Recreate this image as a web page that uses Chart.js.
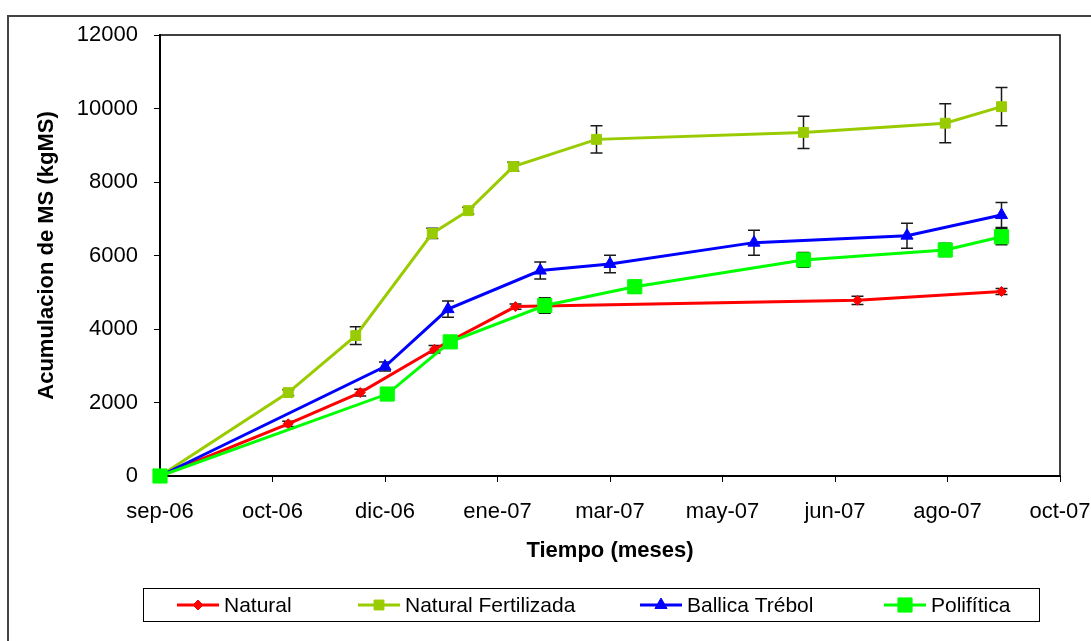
<!DOCTYPE html>
<html>
<head>
<meta charset="utf-8">
<script src="https://cdn.jsdelivr.net/npm/chart.js@4/dist/chart.umd.min.js"></script>
<style>
  html, body { margin: 0; padding: 0; background: #fff; }
  #wrap { width: 1091px; height: 641px; }
</style>
</head>
<body>
<div id="wrap"><canvas id="ms-chart" width="1091" height="641"></canvas></div>
<script>
// x axis: days since 1 Sep 2006, ticks every 50 days
const monthLabels = ['sep-06', 'oct-06', 'dic-06', 'ene-07', 'mar-07', 'may-07', 'jun-07', 'ago-07', 'oct-07']

const naturalDays = [0, 57, 89, 122, 158, 310, 374]
const naturalVals = [0, 1420, 2270, 3450, 4610, 4780, 5020]
const naturalErr  = [0, 70, 90, 100, 70, 110, 80]

const fertDays = [0, 57, 87, 121, 137, 157, 194, 286, 349, 374]
const fertVals = [0, 2270, 3820, 6600, 7220, 8420, 9160, 9350, 9600, 10050]
const fertErr  = [0, 80, 240, 140, 90, 120, 370, 440, 530, 520]

const ballicaDays = [0, 100, 128, 169, 200, 264, 332, 374]
const ballicaVals = [0, 2980, 4540, 5590, 5770, 6350, 6540, 7100]
const ballicaErr  = [0, 120, 220, 230, 240, 340, 340, 340]

const poliDays = [0, 101, 129, 171, 211, 286, 349, 374]
const poliVals = [0, 2230, 3650, 4640, 5150, 5880, 6150, 6510]
const poliErr  = [0, 100, 100, 210, 170, 200, 180, 220]

const FONT = '"Liberation Sans", Arial, sans-serif'

const SERIES = [
  { label: 'Natural',             days: naturalDays, vals: naturalVals, err: naturalErr, color: '#FF0000', style: 'rectRot',  radius: 5, order: 3 },
  { label: 'Natural Fertilizada', days: fertDays,    vals: fertVals,    err: fertErr,    color: '#99CC00', style: 'rect',     radius: 7, order: 2 },
  { label: 'Ballica Trébol',      days: ballicaDays, vals: ballicaVals, err: ballicaErr, color: '#0000FF', style: 'triangle', radius: 7, order: 1 },
  { label: 'Polifítica',          days: poliDays,    vals: poliVals,    err: poliErr,    color: '#00FF00', style: 'rect',     radius: 10, order: 0 },
]

// legend sample start x for each entry (line sample is 42px wide)
const LEGEND_X = [177, 358, 640, 884]

const datasets = SERIES.map(s => ({
  label: s.label,
  data: s.days.map((d, i) => ({ x: d, y: s.vals[i], err: s.err[i] })),
  borderColor: s.color,
  backgroundColor: s.color,
  borderWidth: 3,
  tension: 0,
  pointStyle: s.style,
  pointRadius: s.radius,
  pointBackgroundColor: s.color,
  pointBorderColor: s.color,
  pointBorderWidth: 1,
  order: s.order,
  clip: false,
}))

// vertical error bars with caps, under the lines
const errorBars = {
  id: 'errorBars',
  beforeDatasetsDraw(chart) {
    const { ctx, scales: { x, y } } = chart
    ctx.save()
    ctx.strokeStyle = '#1a1a1a'
    ctx.lineWidth = 1.5
    chart.data.datasets.forEach(ds => {
      ds.data.forEach(p => {
        if (!p.err) return
        const px = x.getPixelForValue(p.x)
        const top = y.getPixelForValue(p.y + p.err)
        const bot = y.getPixelForValue(p.y - p.err)
        ctx.beginPath()
        ctx.moveTo(px, top); ctx.lineTo(px, bot)
        ctx.moveTo(px - 6, top); ctx.lineTo(px + 6, top)
        ctx.moveTo(px - 6, bot); ctx.lineTo(px + 6, bot)
        ctx.stroke()
      })
    })
    ctx.restore()
  },
}

// outer frame, plot box and boxed legend
const frame = {
  id: 'frame',
  beforeDraw(chart) {
    const { ctx, chartArea: a } = chart
    ctx.save()
    ctx.strokeStyle = '#444'
    ctx.lineWidth = 2
    ctx.strokeRect(8, 16, 1200, 800)
    ctx.strokeStyle = '#000'
    ctx.lineWidth = 1.5
    ctx.strokeRect(a.left, a.top, a.right - a.left, a.bottom - a.top)
    ctx.restore()
  },
  afterDraw(chart) {
    const { ctx } = chart
    ctx.save()
    ctx.fillStyle = '#fff'
    ctx.fillRect(143, 588, 896, 33)
    ctx.strokeStyle = '#000'
    ctx.lineWidth = 1
    ctx.strokeRect(143.5, 588.5, 896, 33)
    const cy = 605
    SERIES.forEach((s, i) => {
      const x0 = LEGEND_X[i]
      ctx.strokeStyle = s.color
      ctx.lineWidth = 3
      ctx.beginPath()
      ctx.moveTo(x0, cy); ctx.lineTo(x0 + 42, cy)
      ctx.stroke()
      ctx.fillStyle = s.color
      ctx.lineWidth = 1
      Chart.helpers.drawPoint(ctx, { pointStyle: s.style, radius: s.radius, borderWidth: 1, rotation: 0 }, x0 + 21, cy)
      ctx.fillStyle = '#000'
      ctx.font = `21px ${FONT}`
      ctx.textBaseline = 'middle'
      ctx.textAlign = 'left'
      ctx.fillText(s.label, x0 + 47, cy + 1)
    })
    ctx.restore()
  },
}

new Chart(document.getElementById('ms-chart'), {
  type: 'line',
  data: { datasets },
  plugins: [errorBars, frame],
  options: {
    responsive: false,
    animation: false,
    events: [],
    layout: { padding: { left: 0, top: 35, right: 31, bottom: 0 } },
    plugins: { legend: { display: false }, tooltip: { enabled: false } },
    scales: {
      x: {
        type: 'linear',
        min: 0,
        max: 400,
        afterFit: s => { s.height = 165; s.paddingLeft = 0; s.paddingRight = 0 },
        ticks: {
          stepSize: 50,
          autoSkip: false,
          maxRotation: 0,
          padding: 17,
          color: '#000',
          font: { family: FONT, size: 22 },
          callback: (v, i) => monthLabels[i],
        },
        grid: { drawOnChartArea: false, tickLength: 6, color: '#000' },
        border: { color: '#000', width: 2 },
        title: {
          display: true,
          text: 'Tiempo (meses)',
          color: '#000',
          font: { family: FONT, size: 22, weight: 'bold' },
          padding: { top: 0, bottom: 77 },
        },
      },
      y: {
        min: 0,
        max: 12000,
        afterFit: s => { s.width = 160; s.paddingTop = 0; s.paddingBottom = 0 },
        ticks: {
          stepSize: 2000,
          padding: 16,
          color: '#000',
          font: { family: FONT, size: 22 },
          callback: v => String(v),
        },
        grid: { drawOnChartArea: false, tickLength: 6, color: '#000' },
        border: { color: '#000', width: 2 },
        title: {
          display: true,
          text: 'Acumulacion de MS (kgMS)',
          color: '#000',
          font: { family: FONT, size: 22, weight: 'bold' },
          padding: { top: 34, bottom: 0 },
        },
      },
    },
  },
})
</script>
</body>
</html>
